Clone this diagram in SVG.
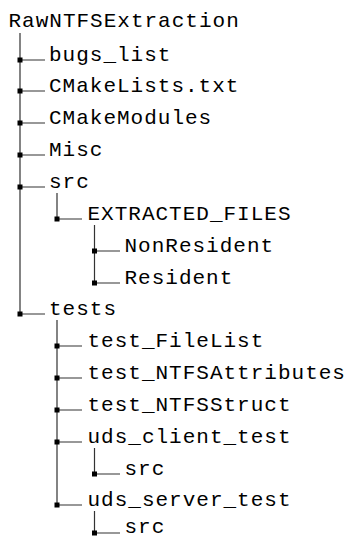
<svg xmlns="http://www.w3.org/2000/svg" width="350" height="540" viewBox="0 0 350 540">
<style>
text{font-family:"Liberation Mono","DejaVu Sans Mono",monospace;font-size:21px;letter-spacing:1px;fill:#000}
.ln{stroke:#333;stroke-width:1.2;fill:none}
.tk{fill:#000}
</style>
<defs>
<rect id="tick" class="tk" x="-2.5" y="-2.5" width="5" height="5"/>
</defs>
<rect width="350" height="540" fill="#fff"/>
<g id="connectors">
<path class="ln" d="M20 33V314M57 193V219M94.5 225V283M57 320V505M94.5 448V474M94.5 511V533"/>
<path class="ln" d="M20 60H45M20 91H45M20 123H45M20 155H45M20 187H45M20 314H45M57 219H82M94.5 251H120M94.5 283H120M57 346H82M57 378H82M57 410H82M57 442H82M94.5 474H120M57 505H82M94.5 533H120"/>
<use href="#tick" x="20" y="60"/><use href="#tick" x="20" y="91"/><use href="#tick" x="20" y="123"/><use href="#tick" x="20" y="155"/><use href="#tick" x="20" y="187"/><use href="#tick" x="20" y="314"/>
<use href="#tick" x="57" y="219"/><use href="#tick" x="94.5" y="251"/><use href="#tick" x="94.5" y="283"/>
<use href="#tick" x="57" y="346"/><use href="#tick" x="57" y="378"/><use href="#tick" x="57" y="410"/><use href="#tick" x="57" y="442"/><use href="#tick" x="94.5" y="474"/><use href="#tick" x="57" y="505"/><use href="#tick" x="94.5" y="533"/>
</g>
<g id="n-root"><text x="8.5" y="27">RawNTFSExtraction</text></g>
<g id="n-bugs_list"><text x="49" y="61">bugs_list</text></g>
<g id="n-cmakelists"><text x="49" y="92">CMakeLists.txt</text></g>
<g id="n-cmakemodules"><text x="49" y="124">CMakeModules</text></g>
<g id="n-misc"><text x="49" y="156">Misc</text></g>
<g id="n-src"><text x="49" y="188">src</text></g>
<g id="n-extracted"><text x="87.5" y="220">EXTRACTED_FILES</text></g>
<g id="n-nonresident"><text x="124.5" y="252">NonResident</text></g>
<g id="n-resident"><text x="124.5" y="284">Resident</text></g>
<g id="n-tests"><text x="49" y="315">tests</text></g>
<g id="n-test_filelist"><text x="87.5" y="347">test_FileList</text></g>
<g id="n-test_ntfsattributes"><text x="87.5" y="379">test_NTFSAttributes</text></g>
<g id="n-test_ntfsstruct"><text x="87.5" y="411">test_NTFSStruct</text></g>
<g id="n-uds_client_test"><text x="87.5" y="443">uds_client_test</text></g>
<g id="n-uds_client_src"><text x="124.5" y="475">src</text></g>
<g id="n-uds_server_test"><text x="87.5" y="506">uds_server_test</text></g>
<g id="n-uds_server_src"><text x="124.5" y="533">src</text></g>
</svg>
